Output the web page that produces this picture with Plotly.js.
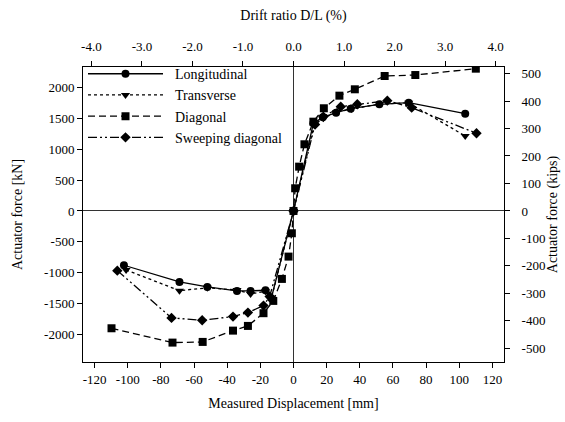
<!DOCTYPE html>
<html>
<head>
<meta charset="utf-8">
<script src="https://cdn.plot.ly/plotly-3.0.1.min.js"></script>
<style>html,body{margin:0;padding:0;background:#fff}#chart{width:565px;height:422px}</style>
</head>
<body>
<div id="chart"></div>
<script>
// Measured displacement [mm] and actuator force [kN]
const longX = [-102.3, -68.8, -52, -34.1, -25.9, -16.9, -13.4, 0, 12, 17.7, 25.7, 34.5, 51.8, 69.5, 103.6];
const longY = [-879, -1149, -1230, -1294, -1294, -1284, -1413, 0, 1419, 1516, 1591, 1656, 1726, 1753, 1575];

const transX = [-101, -68.8, -52, -34.1, -25.9, -16.9, -13.4, 0, 12.5, 18, 26, 35, 52, 69.5, 103.6];
const transY = [-955, -1290, -1245, -1280, -1343, -1300, -1420, 0, 1390, 1500, 1600, 1650, 1730, 1750, 1214];

const diagX = [-109.8, -73, -54.8, -36.5, -27.5, -18.1, -12.2, -7, -3, -1, 0, 1, 3.4, 6.6, 12, 18.3, 27.7, 37, 55, 73.5, 110];
const diagY = [-1899, -2131, -2120, -1937, -1861, -1655, -1456, -1100, -739, -361, 0, 367, 717, 1079, 1445, 1662, 1866, 1969, 2184, 2200, 2303];

const sweepX = [-106.3, -73.6, -55.1, -36.5, -27.5, -18.1, -14.4, 0, 13, 18, 28.5, 38.5, 56.6, 71.3, 110.4];
const sweepY = [-966, -1731, -1769, -1710, -1645, -1532, -1386, 0, 1400, 1526, 1688, 1726, 1785, 1672, 1257];

const seriesNames = ["Longitudinal", "Transverse", "Diagonal", "Sweeping diagonal"];

// tick values for the four axes
const xTicks = [-120, -100, -80, -60, -40, -20, 0, 20, 40, 60, 80, 100, 120];
const yTicks = [-2000, -1500, -1000, -500, 0, 500, 1000, 1500, 2000];
const driftTicks = [-4, -3, -2, -1, 0, 1, 2, 3, 4];
const kipTicks = [-500, -400, -300, -200, -100, 0, 100, 200, 300, 400, 500];

const KN_PER_KIP = 4.448;
const MM_PER_PCT = 30.48;
const xRange = [-127, 127];
const yRange = [-2445, 2330];

const FONT = "Liberation Serif, Times New Roman, serif";
const lineW = 1.3;

function tr(x, y, name, dash, sym) {
  return {
    x: x, y: y, name: "\u00a0\u00a0" + name, type: "scatter", mode: "lines+markers",
    line: {color: "#000", width: lineW, dash: dash},
    marker: {color: "#000", size: 8, symbol: sym},
    xaxis: "x", yaxis: "y"
  };
}

const data = [
  tr(longX, longY, seriesNames[0], "solid", "circle"),
  tr(transX, transY, seriesNames[1], "dot", "triangle-down"),
  tr(diagX, diagY, seriesNames[2], "7px,4px", "square"),
  tr(sweepX, sweepY, seriesNames[3], "9px,3px,2px,3px,2px,3px", "diamond"),
  // secondary-unit view of the diagonal series (invisible), so the top and right axes are drawn
  {
    x: diagX.map(v => v / MM_PER_PCT), y: diagY.map(v => v / KN_PER_KIP),
    type: "scatter", mode: "markers", marker: {opacity: 0, size: 1},
    showlegend: false, hoverinfo: "skip", xaxis: "x2", yaxis: "y2"
  }
];

const tickFont = {family: FONT, size: 13, color: "#000"};
const titleFont = {family: FONT, size: 14, color: "#000"};
const common = {
  ticks: "outside", ticklen: 5, tickcolor: "#000",
  showline: true, linecolor: "#000", linewidth: 1,
  showgrid: false, tickfont: tickFont, tickmode: "array"
};

const layout = {
  width: 565, height: 422,
  margin: {l: 83, r: 61, t: 67, b: 60},
  paper_bgcolor: "#fff", plot_bgcolor: "#fff",
  showlegend: true,
  legend: {
    x: 0, y: 1.03, xanchor: "left", yanchor: "top",
    bgcolor: "rgba(255,255,255,0)", borderwidth: 0,
    font: {family: FONT, size: 14, color: "#000"},
    itemwidth: 75, tracegroupgap: 0
  },
  xaxis: Object.assign({}, common, {
    range: xRange, tickvals: xTicks, ticktext: xTicks.map(v => String(v)),
    zeroline: true, zerolinecolor: "#333", zerolinewidth: 1,
    title: {text: "Measured Displacement [mm]", font: titleFont, standoff: 12}
  }),
  xaxis2: Object.assign({}, common, {
    overlaying: "x", side: "top", anchor: "y",
    range: [xRange[0] / MM_PER_PCT, xRange[1] / MM_PER_PCT],
    tickvals: driftTicks, ticktext: driftTicks.map(v => v.toFixed(1)),
    ticklabelstandoff: 5,
    zeroline: false,
    title: {text: "Drift ratio D/L (%)", font: titleFont, standoff: 14}
  }),
  yaxis: Object.assign({}, common, {
    range: yRange, tickvals: yTicks, ticktext: yTicks.map(v => String(v)),
    zeroline: true, zerolinecolor: "#333", zerolinewidth: 1,
    title: {text: "Actuator force [kN]", font: titleFont, standoff: 18}
  }),
  yaxis2: Object.assign({}, common, {
    overlaying: "y", side: "right", anchor: "x",
    range: [yRange[0] / KN_PER_KIP, yRange[1] / KN_PER_KIP],
    tickvals: kipTicks, ticktext: kipTicks.map(v => String(v)),
    ticklabelstandoff: 9,
    zeroline: false,
    title: {text: "Actuator force (kips)", font: titleFont, standoff: 0}
  })
};

Plotly.newPlot("chart", data, layout, {staticPlot: true, displayModeBar: false});
</script>
</body>
</html>
